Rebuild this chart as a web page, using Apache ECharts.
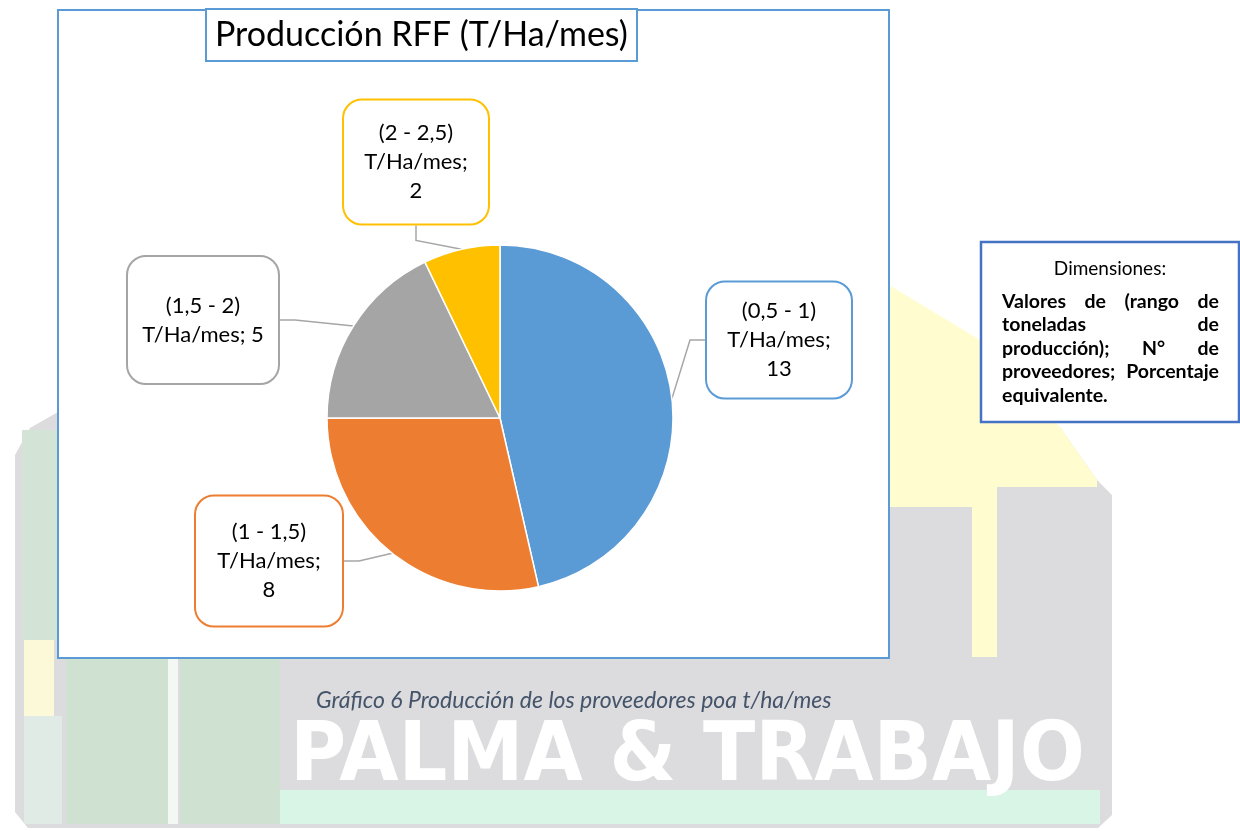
<!DOCTYPE html>
<html>
<head>
<meta charset="utf-8">
<script src="https://cdn.jsdelivr.net/npm/echarts@6/dist/echarts.min.js"></script>
<style>
    html, body { margin: 0; padding: 0; background: #fff; }
    #chart { width: 1240px; height: 831px; }
</style>
</head>
<body>
<div id="chart"></div>
<script>
// datos del gráfico
const categories = ["(0,5 - 1) T/Ha/mes", "(1 - 1,5) T/Ha/mes", "(1,5 - 2) T/Ha/mes", "(2 - 2,5) T/Ha/mes"];
const proveedores = [13, 8, 5, 2];
const chartTitle = "Producción RFF (T/Ha/mes)";
const captionText = "Gráfico 6 Producción de los proveedores poa t/ha/mes";
const noteTitle = "Dimensiones:";
const noteLines = ["Valores de (rango de", "toneladas de", "producción); N° de", "proveedores; Porcentaje", "equivalente."];
const watermarkText = "PALMA & TRABAJO";

const sliceColors = ["#5B9BD5", "#ED7D31", "#A5A5A5", "#FFC000"];
// centro de cada caja de etiqueta y su tamaño
const labelCenters = [[779, 340], [269, 561], [203, 320], [416, 162]];
const labelWidths = [120, 122, 126, 120];
const labelPadV = [14, 21, 34, 18];

const FONT = "Lato, 'Open Sans', sans-serif";

const chartEl = document.getElementById("chart");
const chart = echarts.init(chartEl);

const measureCtx = document.createElement("canvas").getContext("2d");
function textWidth(text, font) {
    measureCtx.font = font;
    return measureCtx.measureText(text).width;
}

function buildNoteText() {
    const els = [];
    const left = 1002, right = 1219;
    const ys = [302, 325, 349, 372, 396];
    const font = "bold 19.5px " + FONT;
    noteLines.forEach((line, i) => {
        const words = line.split(" ");
        const widths = words.map(w => textWidth(w, font));
        const total = widths.reduce((a, b) => a + b, 0);
        const last = i === noteLines.length - 1;
        const gap = (words.length > 1 && !last) ? (right - left - total) / (words.length - 1) : 0;
        let x = left;
        words.forEach((w, k) => {
            els.push({
                type: "text",
                z: 10,
                style: { x: x, y: ys[i], text: w, font: font, fill: "#000", textVerticalAlign: "middle" }
            });
            x += widths[k] + gap;
        });
    });
    return els;
}

function buildWatermark() {
    const font = "bold 82px 'DejaVu Sans'";
    const w = textWidth(watermarkText, font);
    return {
        type: "text",
        z: -5,
        x: 290,
        y: 759,
        scaleX: 795 / w,
        style: { x: 0, y: 0, text: watermarkText, font: font, fill: "#ffffff", textVerticalAlign: "middle" }
    };
}

const pieData = categories.map((name, i) => ({
    name: name,
    value: proveedores[i],
    itemStyle: { color: sliceColors[i] },
    label: {
        width: labelWidths[i],
        padding: [labelPadV[i], 12],
        borderColor: sliceColors[i]
    }
}));

chart.setOption({
    animation: false,
    title: {
        text: chartTitle,
        left: 206,
        top: 9,
        padding: [6, 9],
        borderColor: "#5B9BD5",
        borderWidth: 2,
        backgroundColor: "#fff",
        textStyle: {
            fontFamily: FONT,
            fontSize: 34,
            fontWeight: "normal",
            color: "#000",
            lineHeight: 40
        }
    },
    graphic: [
        // marca de agua de fondo
        {
            type: "polygon", z: -10,
            shape: { points: [[15, 455], [30, 428], [58, 412], [1060, 427], [1097, 480], [1112, 495], [1112, 815], [1098, 828], [28, 828], [15, 812]] },
            style: { fill: "#dcdbdd" }
        },
        {
            type: "polygon", z: -9,
            shape: { points: [[889, 285], [980, 340], [1060, 427], [1097, 480], [1097, 487], [997, 487], [997, 657], [972, 657], [972, 507], [889, 507]] },
            style: { fill: "#fffdd0" }
        },
        { type: "rect", z: -9, shape: { x: 22, y: 430, width: 40, height: 210 }, style: { fill: "#d3e3d5" } },
        { type: "rect", z: -9, shape: { x: 24, y: 640, width: 30, height: 76 }, style: { fill: "#fbf9d8" } },
        { type: "rect", z: -9, shape: { x: 24, y: 716, width: 38, height: 108 }, style: { fill: "#e0ebe5" } },
        { type: "rect", z: -9, shape: { x: 66, y: 658, width: 102, height: 166 }, style: { fill: "#cfe1d0" } },
        { type: "rect", z: -9, shape: { x: 168, y: 658, width: 10, height: 166 }, style: { fill: "#f4f8f4" } },
        { type: "rect", z: -9, shape: { x: 180, y: 658, width: 100, height: 166 }, style: { fill: "#cfe1d0" } },
        { type: "rect", z: -8, shape: { x: 280, y: 790, width: 820, height: 34 }, style: { fill: "#d8f5e6" } },
        buildWatermark(),
        // marco del gráfico
        {
            type: "rect", z: 0,
            shape: { x: 58, y: 10, width: 831, height: 648 },
            style: { fill: "#fff", stroke: "#5B9BD5", lineWidth: 2 }
        },
        {
            type: "text", z: 5,
            style: {
                x: 316, y: 701, text: captionText,
                font: "italic 23px " + FONT, fill: "#44546A", textVerticalAlign: "middle"
            }
        },
        // cuadro de dimensiones
        {
            type: "rect", z: 5,
            shape: { x: 981, y: 242, width: 258, height: 180 },
            style: { fill: "#fff", stroke: "#4472C4", lineWidth: 2.5 }
        },
        {
            type: "text", z: 10,
            style: {
                x: 1110, y: 269, text: noteTitle, font: "19px " + FONT,
                fill: "#000", textAlign: "center", textVerticalAlign: "middle"
            }
        }
    ].concat(buildNoteText()),
    series: [
        {
            type: "pie",
            center: [500, 418],
            radius: 173,
            startAngle: 90,
            clockwise: true,
            data: pieData,
            itemStyle: { borderColor: "#fff", borderWidth: 1.5 },
            label: {
                show: true,
                position: "outside",
                fontFamily: FONT,
                fontSize: 22,
                lineHeight: 29,
                color: "#000",
                align: "center",
                backgroundColor: "#fff",
                borderWidth: 2,
                borderRadius: 18,
                formatter: function (p) {
                    const parts = p.name.split(") ");
                    const sep = p.dataIndex === 2 ? " " : "\n";
                    return parts[0] + ")\n" + parts[1] + ";" + sep + p.value;
                }
            },
            labelLine: {
                show: true,
                length: 15,
                length2: 15,
                lineStyle: { color: "#A6A6A6", width: 1.5 }
            },
            labelLayout: function (params) {
                const c = labelCenters[params.dataIndex];
                return { x: c[0], y: c[1], align: "center", verticalAlign: "middle" };
            }
        }
    ]
});

window.addEventListener("resize", () => chart.resize());
</script>
</body>
</html>
